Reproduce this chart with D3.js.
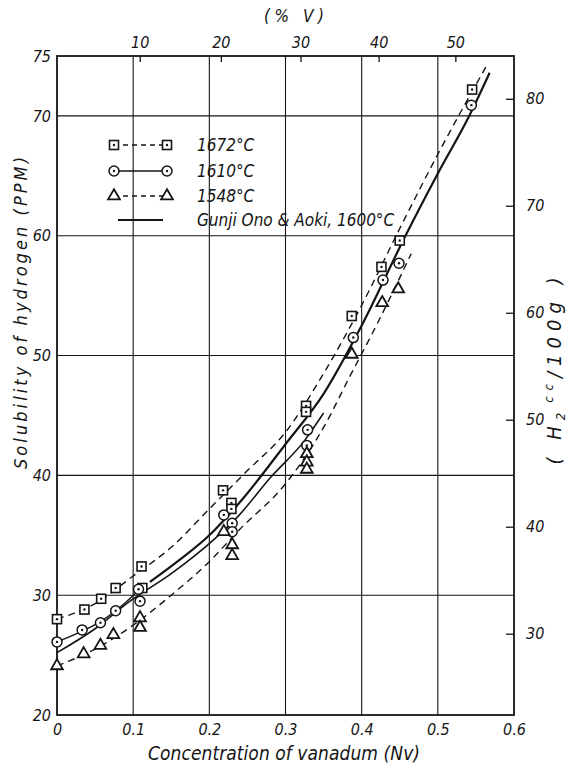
<!DOCTYPE html>
<html>
<head>
<meta charset="utf-8">
<script src="https://cdn.jsdelivr.net/npm/d3@7"></script>
<style>
  body { margin: 0; background: #fff; }
  text { font-family: "Liberation Sans Narrow", "DejaVu Sans Condensed", "Liberation Sans", sans-serif; font-style: italic; fill: #151515; }
</style>
</head>
<body>
<svg id="chart" width="573" height="769"></svg>
<script>
// ticks
var xTicks = [0, 0.1, 0.2, 0.3, 0.4, 0.5, 0.6];
var yTicks = [20, 30, 40, 50, 60, 70, 75];
var ccTicks = [30, 40, 50, 60, 70, 80];
var wtTicks = [10, 20, 30, 40, 50];

// measured points [N_V, ppm]
var pts1672 = [[0, 28.0], [0.036, 28.8], [0.058, 29.7], [0.077, 30.6], [0.111, 32.4], [0.112, 30.6],
  [0.218, 38.75], [0.229, 37.7], [0.229, 37.2], [0.327, 45.8], [0.327, 45.3],
  [0.387, 53.3], [0.426, 57.4], [0.45, 59.6], [0.545, 72.2]];
var pts1610 = [[0, 26.1], [0.033, 27.1], [0.057, 27.7], [0.077, 28.7], [0.107, 30.5], [0.109, 29.5],
  [0.219, 36.7], [0.23, 36.0], [0.23, 35.3], [0.329, 43.8], [0.328, 42.5],
  [0.389, 51.5], [0.428, 56.3], [0.449, 57.7], [0.544, 70.9]];
var pts1548 = [[0, 24.1], [0.035, 25.1], [0.057, 25.8], [0.074, 26.7], [0.109, 28.1], [0.109, 27.3],
  [0.219, 35.3], [0.23, 34.2], [0.23, 33.3], [0.328, 41.8], [0.328, 41.1], [0.328, 40.5],
  [0.387, 50.1], [0.427, 54.4], [0.448, 55.55]];

// fitted curves
var curve1672 = [[0, 28.0], [0.05, 29.3], [0.1, 31.6], [0.15, 34.0], [0.2, 37.2], [0.25, 40.4],
  [0.3, 43.6], [0.35, 48.5], [0.4, 54.2], [0.45, 60.6], [0.5, 66.8], [0.565, 74.3]];
var curve1610low = [[0, 26.1], [0.033, 27.0], [0.057, 27.8], [0.077, 28.7], [0.107, 30.4]];
var curve1610 = [[0.122, 31.1], [0.16, 32.9], [0.2, 35.0], [0.242, 37.9], [0.3, 42.6], [0.35, 46.8],
  [0.4, 52.5], [0.4575, 60.0], [0.5, 65.2], [0.542, 70.1], [0.568, 73.6]];
var curveGunji = [[0, 25.2], [0.05, 27.2], [0.098, 29.6], [0.15, 31.8], [0.207, 34.7], [0.238, 36.6],
  [0.28, 39.8], [0.325, 42.9], [0.35, 45.2]];
var curve1548 = [[0, 24.1], [0.05, 25.5], [0.1, 27.5], [0.15, 30.0], [0.2, 32.8], [0.24, 35.5],
  [0.3, 39.3], [0.35, 44.0], [0.384, 48.2], [0.42, 52.6], [0.465, 58.5]];

var legendLabels = ["1672°C", "1610°C", "1548°C", "Gunji Ono & Aoki, 1600°C"];

var svg = d3.select("#chart");

var x = d3.scaleLinear().domain([0, 0.6]).range([57, 514]);
var y = d3.scaleLinear().domain([20, 75]).range([715, 56]);
// 1 ppm H = 1.12 cc / 100 g
var yCC = d3.scaleLinear().domain([20 * 1.12, 75 * 1.12]).range(y.range());
// weight % V -> atom fraction
function wtToN(w) { return (w / 50.94) / (w / 50.94 + (100 - w) / 55.85); }

var ink = "#151515";

// grid
svg.append("g").selectAll("line")
  .data(xTicks.slice(1, -1))
  .enter().append("line")
  .attr("x1", d => x(d)).attr("x2", d => x(d))
  .attr("y1", y(75)).attr("y2", y(20))
  .attr("stroke", ink).attr("stroke-width", 1.1);

svg.append("g").selectAll("line")
  .data(yTicks.slice(1, -1))
  .enter().append("line")
  .attr("x1", x(0)).attr("x2", x(0.6))
  .attr("y1", d => y(d)).attr("y2", d => y(d))
  .attr("stroke", ink).attr("stroke-width", 1.1);

svg.append("rect")
  .attr("x", x(0)).attr("y", y(75))
  .attr("width", x(0.6) - x(0)).attr("height", y(20) - y(75))
  .attr("fill", "none").attr("stroke", ink).attr("stroke-width", 1.8);

// axes
var bottomAxis = d3.axisBottom(x).tickValues(xTicks).tickSize(0).tickPadding(9)
  .tickFormat(d => d === 0 ? "0" : d.toFixed(1));
var leftAxis = d3.axisLeft(y).tickValues(yTicks).tickSize(0).tickPadding(6);
var rightAxis = d3.axisRight(yCC).tickValues(ccTicks).tickSizeInner(-8).tickSizeOuter(0).tickPadding(12);
var topAxis = d3.axisTop(x).tickValues(wtTicks.map(wtToN)).tickSizeInner(-6).tickSizeOuter(0).tickPadding(8)
  .tickFormat((d, i) => wtTicks[i]);

function styleAxis(g) {
  g.select(".domain").remove();
  g.selectAll("line").attr("stroke", ink).attr("stroke-width", 1.3);
  g.selectAll("text").attr("font-size", 16).attr("fill", ink);
}
svg.append("g").attr("transform", `translate(0, ${y(20)})`).call(bottomAxis).call(styleAxis);
svg.append("g").attr("transform", `translate(${x(0)}, 0)`).call(leftAxis).call(styleAxis);
svg.append("g").attr("transform", `translate(${x(0.6)}, 0)`).call(rightAxis).call(styleAxis);
svg.append("g").attr("transform", `translate(0, ${y(75)})`).call(topAxis).call(styleAxis);
svg.selectAll(".tick text").attr("font-family", null);

// curves
var line = d3.line().x(d => x(d[0])).y(d => y(d[1])).curve(d3.curveMonotoneX);

function drawCurve(data, width, dash) {
  svg.append("path").datum(data)
    .attr("d", line)
    .attr("fill", "none")
    .attr("stroke", ink)
    .attr("stroke-width", width)
    .attr("stroke-dasharray", dash);
}
drawCurve(curve1672, 1.4, "7,5");
drawCurve(curve1610low, 1.4, null);
drawCurve(curve1610, 2.2, null);
drawCurve(curveGunji, 1.6, null);
drawCurve(curve1548, 1.4, "7,5");

// markers
function squares(g, data) {
  g.selectAll("rect.sq").data(data).enter().append("rect")
    .attr("x", d => x(d[0]) - 4.5).attr("y", d => y(d[1]) - 4.5)
    .attr("width", 9).attr("height", 9)
    .attr("fill", "#fff").attr("stroke", ink).attr("stroke-width", 1.6);
  g.selectAll("circle.dot").data(data).enter().append("circle")
    .attr("cx", d => x(d[0])).attr("cy", d => y(d[1])).attr("r", 1.2).attr("fill", ink);
}
function circles(g, data) {
  g.selectAll("circle.ring").data(data).enter().append("circle")
    .attr("cx", d => x(d[0])).attr("cy", d => y(d[1])).attr("r", 5)
    .attr("fill", "#fff").attr("stroke", ink).attr("stroke-width", 1.5);
  g.selectAll("circle.dot").data(data).enter().append("circle")
    .attr("cx", d => x(d[0])).attr("cy", d => y(d[1])).attr("r", 1.2).attr("fill", ink);
}
var tri = d3.symbol().type(d3.symbolTriangle).size(60);
function triangles(g, data) {
  g.selectAll("path").data(data).enter().append("path")
    .attr("d", tri)
    .attr("transform", d => `translate(${x(d[0])}, ${y(d[1])})`)
    .attr("fill", "#fff").attr("stroke", ink).attr("stroke-width", 1.8);
}
squares(svg.append("g"), pts1672);
circles(svg.append("g"), pts1610);
triangles(svg.append("g"), pts1548);

// legend
var lx1 = 114, lx2 = 167, ltx = 197;
var rows = [145, 171, 196, 220];
var leg = svg.append("g");
leg.append("line").attr("x1", lx1).attr("x2", lx2).attr("y1", rows[0]).attr("y2", rows[0])
  .attr("stroke", ink).attr("stroke-width", 1.3).attr("stroke-dasharray", "5,4");
leg.append("line").attr("x1", lx1).attr("x2", lx2).attr("y1", rows[1]).attr("y2", rows[1])
  .attr("stroke", ink).attr("stroke-width", 1.3);
leg.append("line").attr("x1", lx1).attr("x2", lx2).attr("y1", rows[2]).attr("y2", rows[2])
  .attr("stroke", ink).attr("stroke-width", 1.3).attr("stroke-dasharray", "5,4");
leg.append("line").attr("x1", lx1 + 4).attr("x2", lx2 - 4).attr("y1", rows[3]).attr("y2", rows[3])
  .attr("stroke", ink).attr("stroke-width", 1.8);
squares(leg.append("g"), [[x.invert(lx1), y.invert(rows[0])], [x.invert(lx2), y.invert(rows[0])]]);
circles(leg.append("g"), [[x.invert(lx1), y.invert(rows[1])], [x.invert(lx2), y.invert(rows[1])]]);
triangles(leg.append("g"), [[x.invert(lx1), y.invert(rows[2])], [x.invert(lx2), y.invert(rows[2])]]);
leg.selectAll("text.lab").data(legendLabels).enter().append("text")
  .attr("x", ltx).attr("y", (d, i) => rows[i] + 6)
  .attr("font-size", 17)
  .text(d => d);

// titles
svg.append("text")
  .attr("transform", "translate(27, 313) rotate(-90)")
  .attr("text-anchor", "middle")
  .attr("font-size", 18)
  .attr("textLength", 312).attr("lengthAdjust", "spacing")
  .text("Solubility of hydrogen (PPM)");

svg.append("text")
  .attr("x", 284).attr("y", 760)
  .attr("text-anchor", "middle")
  .attr("font-size", 19)
  .attr("textLength", 272).attr("lengthAdjust", "spacing")
  .text("Concentration of vanadum (Nv)");

svg.append("text")
  .attr("x", 294).attr("y", 22)
  .attr("text-anchor", "middle")
  .attr("font-size", 17)
  .attr("textLength", 60).attr("lengthAdjust", "spacing")
  .text("(% V)");

var rl = svg.append("text")
  .attr("transform", "translate(561, 368) rotate(-90)")
  .attr("text-anchor", "middle")
  .attr("font-size", 20)
  .attr("letter-spacing", 6);
rl.append("tspan").text("( H");
rl.append("tspan").attr("font-size", 13).attr("dy", 4).text("2");
rl.append("tspan").attr("font-size", 13).attr("dy", -12).attr("dx", 4).text("cc");
rl.append("tspan").attr("dy", 8).text("/100g )");
</script>
</body>
</html>
